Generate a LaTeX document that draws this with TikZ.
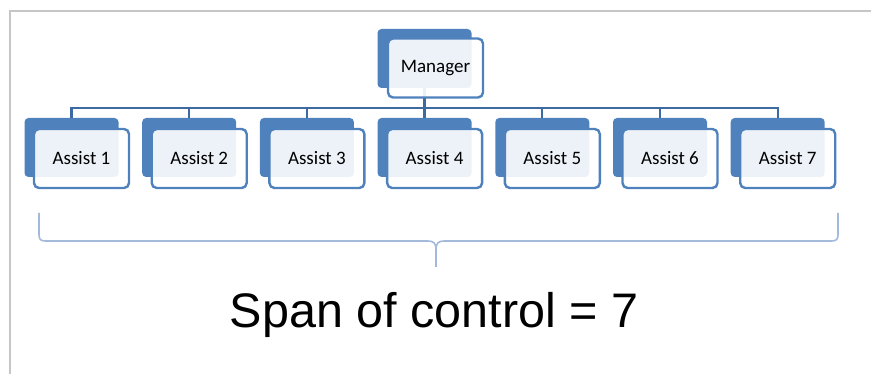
\documentclass[tikz,border=0pt]{standalone}
\usepackage{fontspec}
\setmainfont{Carlito}
\newfontfamily\spanfont{Liberation Sans}
\usetikzlibrary{positioning}
\definecolor{boxblue}{HTML}{4F81BD}
\definecolor{linkblue}{HTML}{3D6AA0}
\definecolor{spanblue}{HTML}{A3BADB}
\tikzset{backbox/.style = {fill = boxblue, rounded corners = 4, minimum width = 94,
                           minimum height = 59, inner sep = 0}}
\tikzset{frontbox/.style = {draw = boxblue, fill = white, fill opacity = 0.9, text opacity = 1,
                            line width = 2.4, rounded corners = 5, minimum width = 95,
                            minimum height = 59, inner sep = 0, font = \fontsize{19}{22}\selectfont}}
\tikzset{link/.style = {draw = linkblue, line width = 2.3}}
\tikzset{spanline/.style = {draw = spanblue, line width = 1.6}}
\begin{document}
\begin{tikzpicture}[x = 1pt, y = -1pt]
    \useasboundingbox (0, 0) rectangle (871, 374);
    \draw [gray!45, line width = 2.5] (10, 374) -- (10, 11) -- (871, 11);
    % back boxes
    \node [backbox] (mgrb) at (424.5, 58.5) {};
    \foreach \i in {1, ..., 7}
      \node [backbox] (b\i) at (71.5 + 117.7*\i - 117.7, 147.5) {};
    % links
    \coordinate (bus) at (424.5, 108);
    \draw [link] (mgrb.south) -- (bus);
    \foreach \i in {1, ..., 7}
      \draw [link] (bus) -| (b\i.north);
    % front boxes
    \node [frontbox] (mgr) at (435.5, 68) {Manager};
    \foreach \i in {1, ..., 7}
      \node [frontbox] (f\i) at (81.5 + 117.7*\i - 117.7, 158.5) {Assist \i};
    % span bracket
    \coordinate (sl) at (39, 213);
    \coordinate (sr) at (838, 213);
    \coordinate (tip) at (436, 267);
    \draw [spanline] (sl) -- (39, 233) .. controls (39, 240) and (40, 241) .. (47, 241)
      -- (427, 241) .. controls (434, 241) and (436, 243) .. (436, 250) -- (tip);
    \draw [spanline] (tip) -- (436, 250) .. controls (436, 243) and (438, 241) .. (445, 241)
      -- (830, 241) .. controls (837, 241) and (838, 240) .. (838, 233) -- (sr);
    \node [font = \spanfont\fontsize{48.5}{52}\selectfont, anchor = base] (span) at (434, 327)
      {Span of control = 7};
  \end{tikzpicture}
\end{document}
